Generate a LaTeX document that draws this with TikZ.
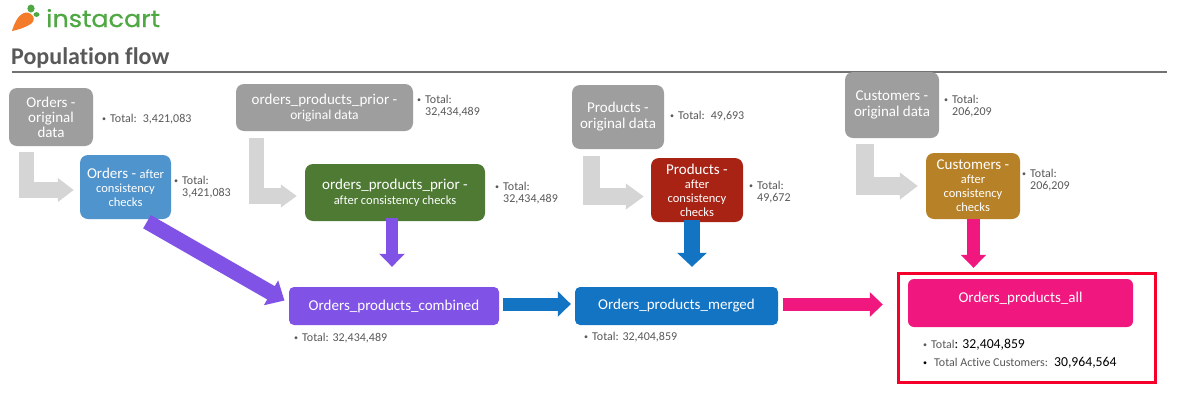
\documentclass[tikz,border=0pt]{standalone}
\usepackage{fontspec}
\setmainfont{Carlito}[Ligatures=NoCommon]
\newfontfamily\logofont{Poppins}[FakeStretch=1.08,FakeBold=0.6]
\usetikzlibrary{arrows.meta}
\definecolor{boxgray}{HTML}{9E9E9E}
\definecolor{arrowgray}{HTML}{D5D5D5}
\definecolor{txtgray}{HTML}{595959}
\definecolor{boxblue}{HTML}{5094CD}
\definecolor{boxgreen}{HTML}{4E7A33}
\definecolor{boxred}{HTML}{A92315}
\definecolor{boxbrown}{HTML}{B78227}
\definecolor{flowpurple}{HTML}{8053E6}
\definecolor{flowblue}{HTML}{1474C4}
\definecolor{flowpink}{HTML}{F0177F}
\definecolor{framered}{HTML}{F5002B}
\definecolor{logogreen}{HTML}{4FA843}
\definecolor{carrot}{HTML}{F47B2A}
\newcommand{\fz}[1]{\fontsize{#1}{#1}\selectfont}
\newcommand{\bul}{\makebox[8pt][l]{\raisebox{0.5pt}{\fz{8}\textbullet}}}
\tikzset{
  boxnode/.style={fill=#1,rounded corners=8pt,text=white,align=center,inner sep=0pt,font=\fz{15}},
  totnode/.style={anchor=base west,inner sep=0pt,text=txtgray,align=left,font=\fz{12}},
  flow/.style n args={4}{draw=#1,line width=#2,-{Triangle[length=#3,width=#4]}},
}
\begin{document}
\begin{tikzpicture}[x=1pt,y=-1pt]
\useasboundingbox[fill=white] (0,0) rectangle (1179,405);
% logo
\fill[carrot] (12,31) .. controls (14,24) and (18,16) .. (22,14) .. controls (26,11) and (31,13) .. (33,16) .. controls (35,20) and (33,23) .. (29,25) .. controls (24,28) and (17,30) .. cycle;
\fill[logogreen] (31,8.5) ellipse (3.6 and 4);
\fill[logogreen] (36.5,14.5) ellipse (3 and 2.4);
\node[anchor=base west,inner sep=0pt,text=logogreen,font={\logofont\fz{23.6}}] (logo) at (46,27) {instacart};
% heading
\node[anchor=base west,inner sep=0pt,text=txtgray,font={\bfseries\fz{24}}] (title) at (11,64) {Population flow};
\coordinate (ruleL) at (12,72);
\coordinate (ruleR) at (1167,72);
\draw[draw=txtgray!85,line width=1.5pt] (ruleL) -- (ruleR);
% boxes
\node[boxnode=boxgray,minimum width=84pt,minimum height=58pt] (oo) at (51,117) {Orders -\\original\\data};
\node[boxnode=boxblue,minimum width=91pt,minimum height=64pt] (oa) at (125.5,187) {Orders - {\fz{12.5}after}\\[-1pt]{\fz{12.5}consistency}\\[-1pt]{\fz{12.5}checks}};
\node[boxnode=boxgray,minimum width=177pt,minimum height=47pt] (po) at (324.5,107.5) {orders\_products\_prior -\\{\fz{13.5}original data}};
\node[boxnode=boxgreen,minimum width=180pt,minimum height=57pt] (pa) at (395,192.5) {orders\_products\_prior -\\{\fz{12.5}after consistency checks}};
\node[boxnode=boxgray,minimum width=92pt,minimum height=64pt] (ro) at (618,117) {Products -\\[1pt]original data};
\node[boxnode=boxred,minimum width=92pt,minimum height=64pt] (ra) at (697,190) {Products -\\[-1pt]{\fz{12.5}after}\\[-1pt]{\fz{12.5}consistency}\\[-1pt]{\fz{12.5}checks}};
\node[boxnode=boxgray,minimum width=94pt,minimum height=66pt] (co) at (892,105) {Customers -\\[1pt]original data};
\node[boxnode=boxbrown,minimum width=94pt,minimum height=66pt] (ca) at (973,186) {Customers -\\[-1pt]{\fz{12.5}after}\\[-1pt]{\fz{12.5}consistency}\\[-1pt]{\fz{12.5}checks}};
\node[boxnode=flowpurple,rounded corners=5pt,minimum width=210pt,minimum height=38pt] (comb) at (394,306) {Orders\_products\_combined};
\node[boxnode=flowblue,rounded corners=5pt,minimum width=203pt,minimum height=38pt] (merg) at (676.5,306) {Orders\_products\_merged};
\node[boxnode=flowpink,rounded corners=6pt,minimum width=225pt,minimum height=48pt,text height=10pt,text depth=11pt] (allp) at (1020.5,303) {Orders\_products\_all};
% frame
\node[draw=framered,line width=3pt,inner sep=0pt,minimum width=257pt,minimum height=109pt] (frame) at (1026.5,327.5) {};
% totals
\node[totnode] (t1) at (102,122) {\bul Total:\hspace{0.5em}3,421,083};
\node[totnode] (t2) at (174,196) {\bul Total:\\\hspace*{8pt}3,421,083};
\node[totnode] (t3) at (417,115) {\bul Total:\\\hspace*{8pt}32,434,489};
\node[totnode] (t4) at (495,202) {\bul Total:\\\hspace*{8pt}32,434,489};
\node[totnode] (t5) at (670,119) {\bul Total:\hspace{0.5em}49,693};
\node[totnode] (t6) at (749,201) {\bul Total:\\\hspace*{8pt}49,672};
\node[totnode] (t7) at (944,115) {\bul Total:\\\hspace*{8pt}206,209};
\node[totnode] (t8) at (1022,189) {\bul Total:\\\hspace*{8pt}206,209};
\node[totnode] (t9) at (294,341) {\bul Total: 32,434,489};
\node[totnode] (t10) at (584,340) {\bul Total: 32,404,859};
\node[totnode] (t11) at (923,348) {\bul Total{\color{black}\fz{13.7}: 32,404,859}};
\node[totnode] (t12) at (923,366) {{\color{black}\makebox[11pt][l]{\raisebox{0.5pt}{\fz{8}\textbullet}}}Total Active Customers:\hspace{0.5em}{\color{black}\fz{13.7}30,964,564}};
% bent connectors
\draw[flow={arrowgray}{15.5pt}{16pt}{23pt},shorten <=6pt,shorten >=6pt] ([xshift=-24.5pt]oo.south) |- ([yshift=-3pt]oa.west);
\draw[flow={arrowgray}{15.5pt}{16pt}{22pt},shorten <=7pt,shorten >=8pt] ([xshift=-68pt]po.south) |- ([yshift=-3.5pt]pa.west);
\draw[flow={arrowgray}{17pt}{18pt}{25pt},shorten <=7pt,shorten >=7pt] ([xshift=-26.5pt]ro.south) |- ([yshift=-6.5pt]ra.west);
\draw[flow={arrowgray}{18pt}{18pt}{26pt},shorten <=6pt,shorten >=8pt] ([xshift=-27pt]co.south) |- (ca.west);
% flow connectors
\draw[flow={flowpurple}{15.3pt}{15.5pt}{27.7pt},shorten >=5pt] ([xshift=21.5pt,yshift=-2.5pt]oa.south) -- ([yshift=3pt]comb.west);
\draw[flow={flowpurple}{12pt}{13pt}{25pt},shorten <=-3pt,shorten >=20pt] ([xshift=-3pt]pa.south) -- ([xshift=-2pt]comb.north);
\draw[flow={flowblue}{15.3pt}{14pt}{29pt},shorten <=-2pt,shorten >=20pt] ([xshift=-5pt]ra.south) -- ([xshift=15.5pt]merg.north);
\draw[flow={flowpink}{13pt}{13pt}{25pt},shorten >=11pt] ([xshift=0.5pt]ca.south) -- ([xshift=-47pt]allp.north);
\draw[flow={flowblue}{13pt}{13pt}{25pt},shorten <=4pt,shorten >=4pt] ([yshift=2pt]comb.east) -- ([yshift=2pt]merg.west);
\draw[flow={flowpink}{13pt}{13pt}{24pt},shorten <=5pt,shorten >=25pt] ([yshift=1.5pt]merg.east) -- ([yshift=1.5pt]merg.east -| allp.west);
\end{tikzpicture}
\end{document}
